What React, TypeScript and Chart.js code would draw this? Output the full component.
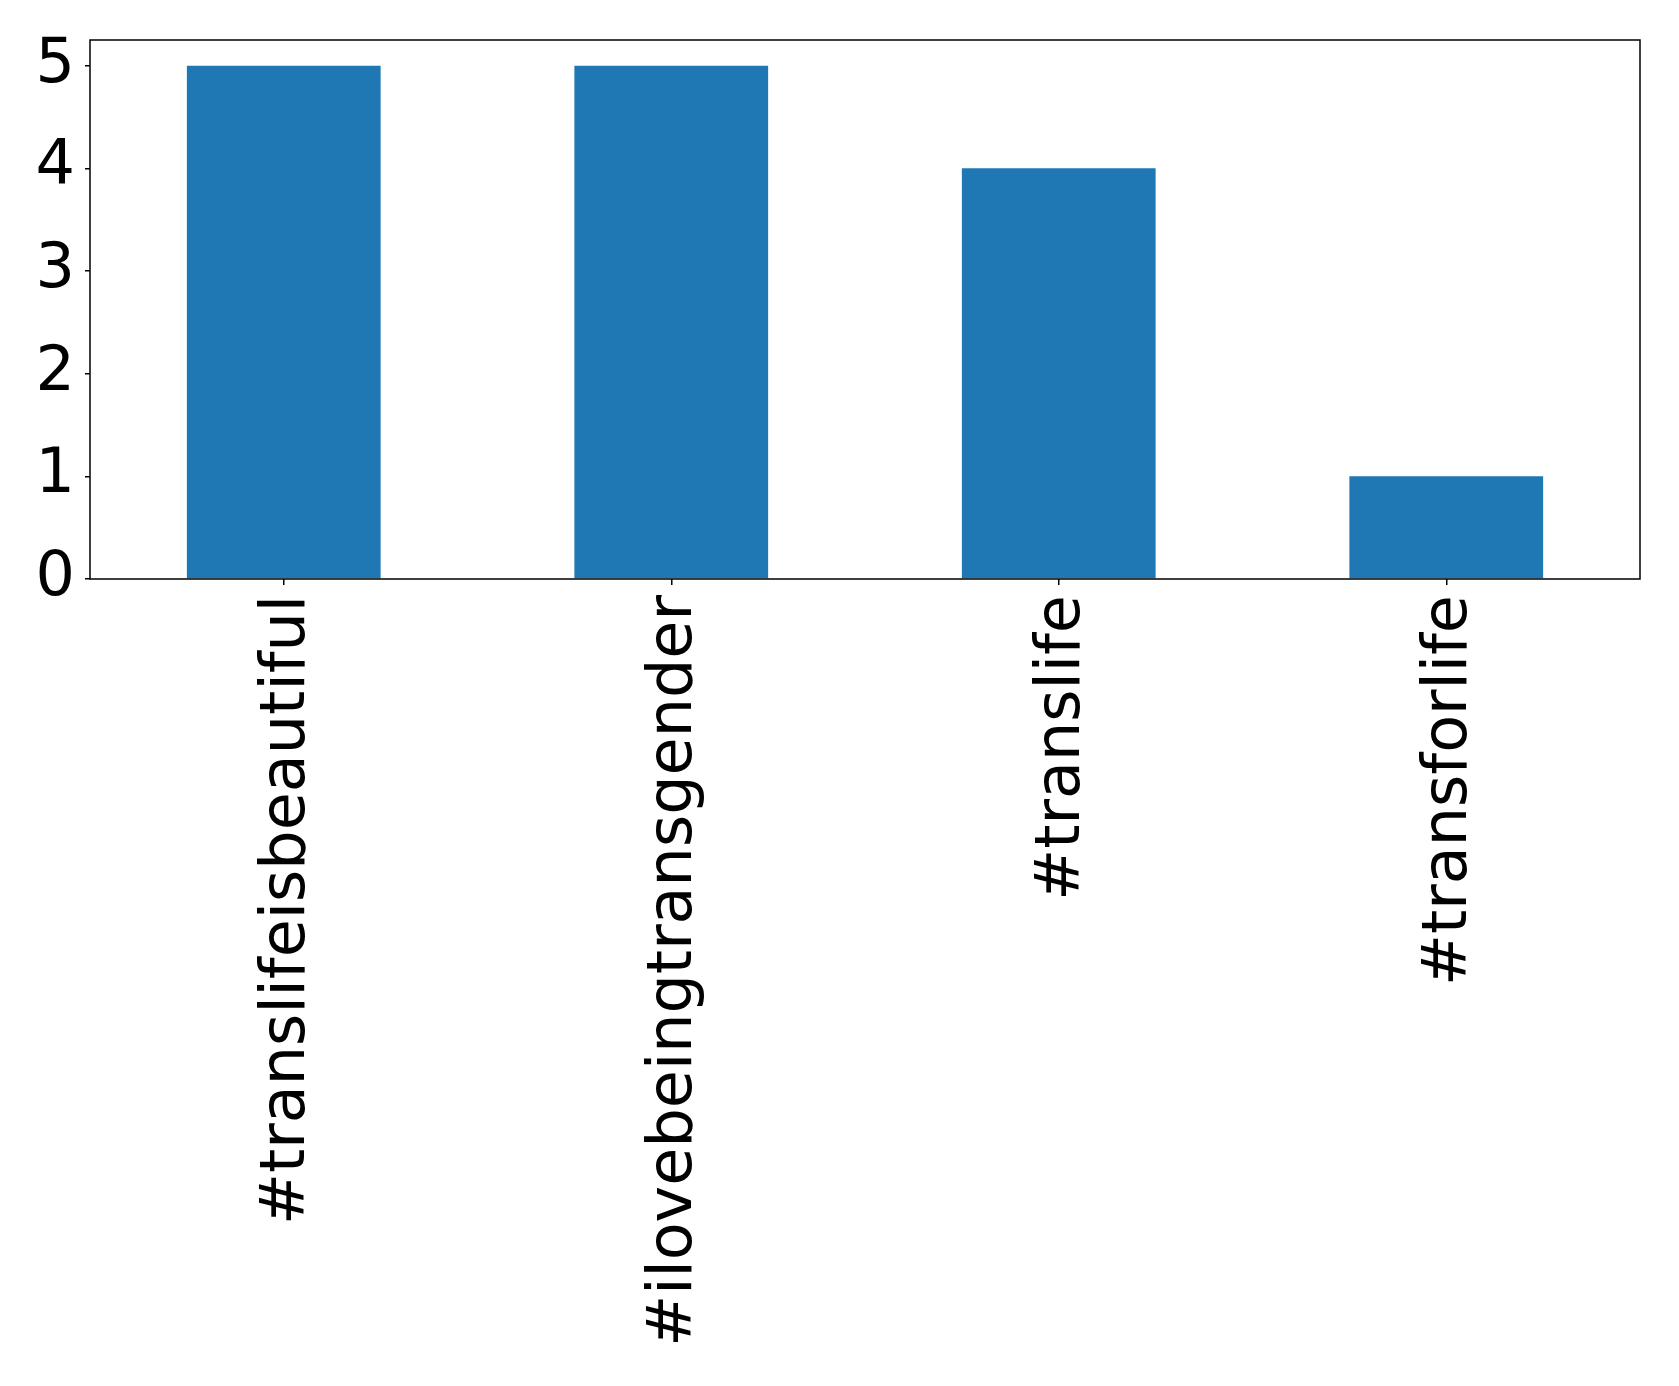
import React, { useEffect, useRef } from "react";
import { Chart, registerables } from "chart.js";

Chart.register(...registerables);

const categories = ["#translifeisbeautiful", "#ilovebeingtransgender", "#translife", "#transforlife"];
const counts = [5, 5, 4, 1];
const yTicks = [0, 1, 2, 3, 4, 5];

const W = 1679;
const H = 1386;
const LEFT = 90;
const TOP = 40;
const RIGHT = 1640;
const BOTTOM = 579;

const framePlugin = {
  id: "frame",
  afterDraw(chart: any) {
    const { ctx, chartArea } = chart;
    ctx.save();
    ctx.strokeStyle = "#000";
    ctx.lineWidth = 1.5;
    ctx.strokeRect(chartArea.left, chartArea.top, chartArea.right - chartArea.left, chartArea.bottom - chartArea.top);
    ctx.restore();
  },
};

export default function App() {
  const ref = useRef<HTMLCanvasElement | null>(null);
  useEffect(() => {
    document.body.style.margin = "0";
    const font = { family: "DejaVu Sans", size: 62 };
    const chart = new Chart(ref.current as HTMLCanvasElement, {
      type: "bar",
      data: {
        labels: categories,
        datasets: [
          {
            data: counts,
            backgroundColor: "#1f77b4",
            barPercentage: 0.5,
            categoryPercentage: 1,
          },
        ],
      },
      options: {
        animation: false,
        responsive: false,
        maintainAspectRatio: false,
        layout: { padding: { top: TOP, right: W - RIGHT, left: 0, bottom: 0 } },
        plugins: { legend: { display: false }, tooltip: { enabled: false } },
        scales: {
          x: {
            offset: true,
            grid: { offset: false, drawOnChartArea: false, drawTicks: true, tickLength: 6, color: "#000", lineWidth: 1.5 },
            border: { display: false },
            ticks: { color: "#000", font, maxRotation: 90, minRotation: 90, padding: 10, autoSkip: false, labelOffset: 4 },
            afterFit: (axis: any) => {
              axis.height = H - BOTTOM;
              axis.paddingLeft = 0;
              axis.paddingRight = 0;
            },
          },
          y: {
            min: 0,
            max: 5.25,
            afterBuildTicks: (axis: any) => {
              axis.ticks = yTicks.map((v) => ({ value: v }));
            },
            grid: { drawOnChartArea: false, drawTicks: true, tickLength: 5, color: "#000", lineWidth: 1.5 },
            border: { display: false },
            ticks: { color: "#000", font, padding: 10 },
            afterFit: (axis: any) => {
              axis.width = LEFT;
              axis.paddingTop = 0;
              axis.paddingBottom = 0;
            },
          },
        },
      },
      plugins: [framePlugin],
    } as any);
    return () => chart.destroy();
  }, []);
  return (
    <div style={{ width: W, height: H, background: "#fff" }}>
      <canvas ref={ref} width={W} height={H} style={{ display: "block" }} />
    </div>
  );
}
